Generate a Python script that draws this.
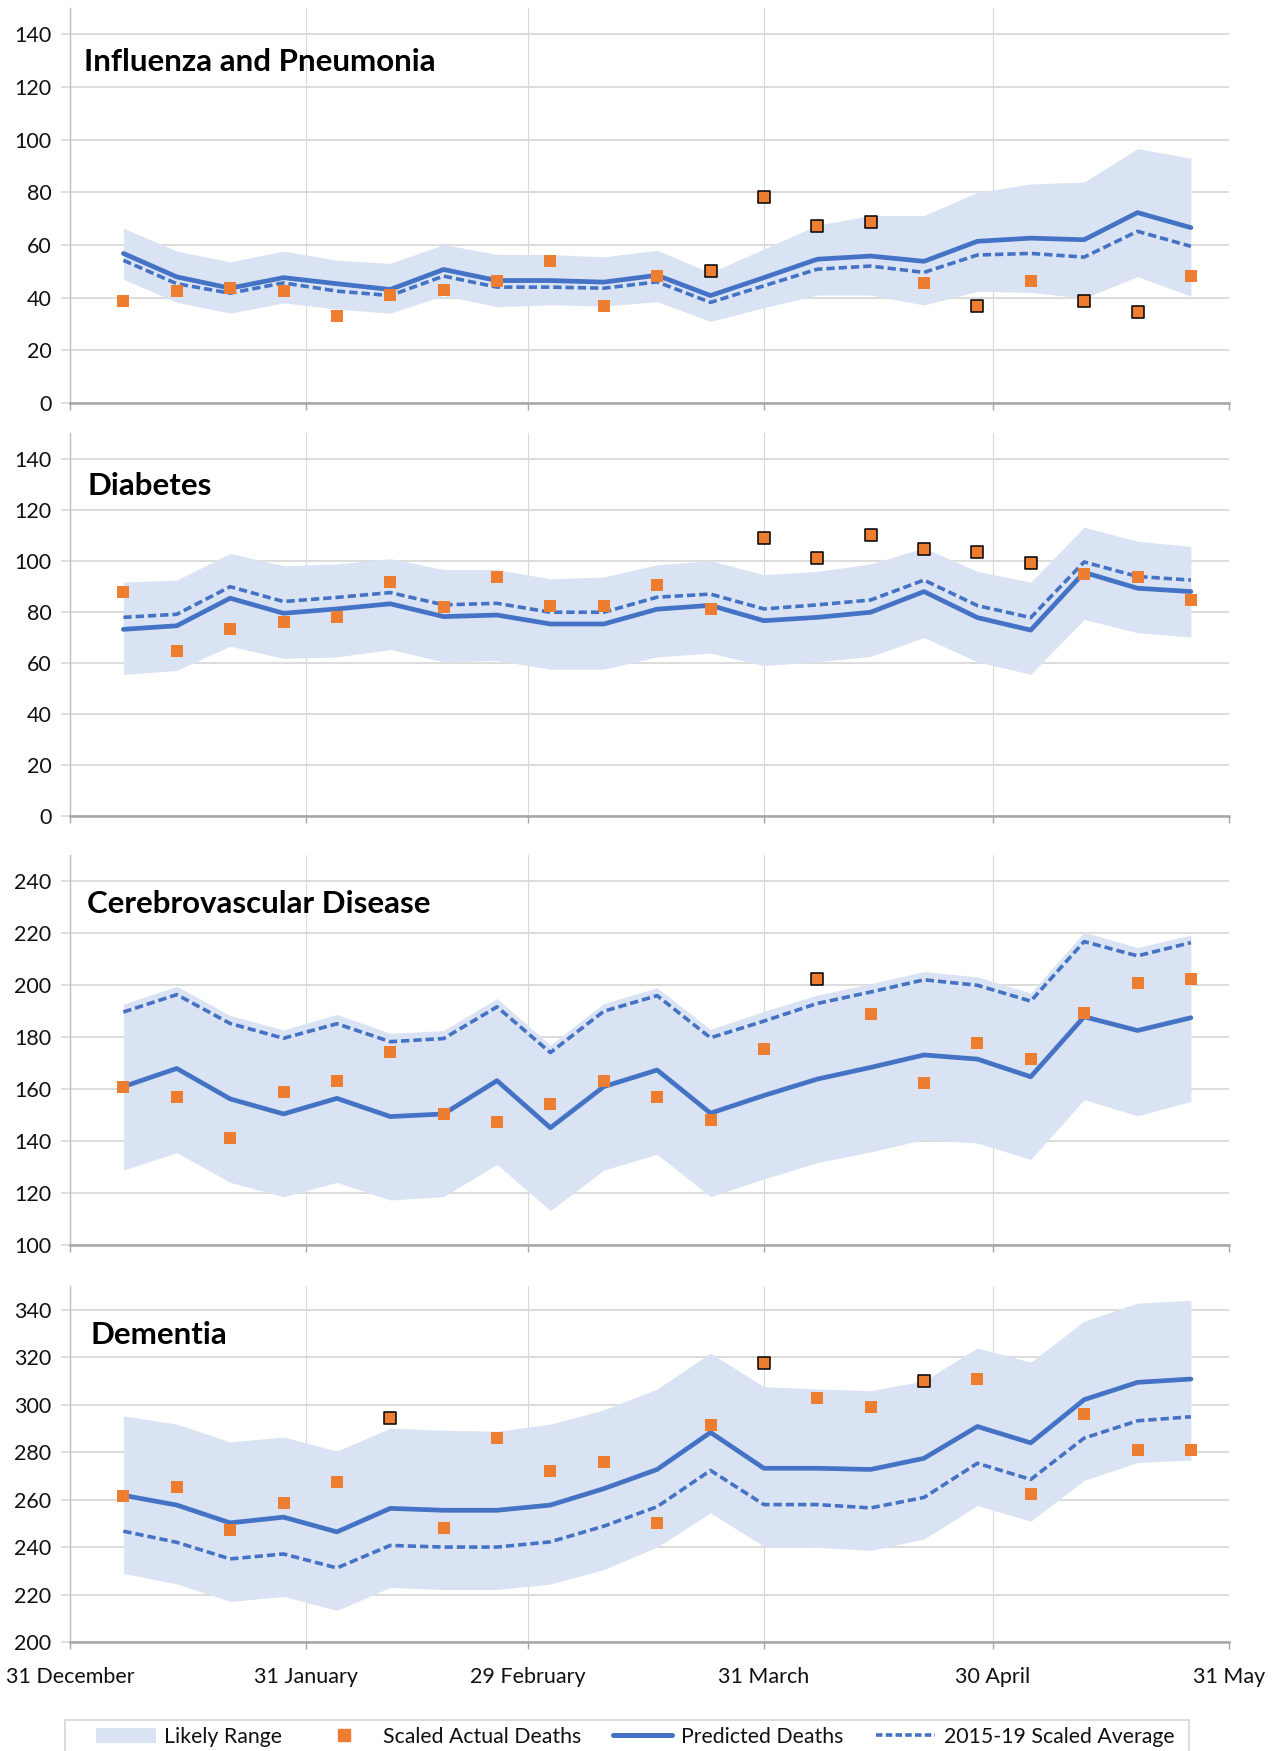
import numpy as np, pandas as pd, matplotlib.pyplot as plt, seaborn as sns
from matplotlib.patches import Patch, Rectangle
from matplotlib.lines import Line2D

# ==========================
# DATA
# ==========================
WEEKS = ["2020-01-07", "2020-01-14", "2020-01-21", "2020-01-28", "2020-02-04",
         "2020-02-11", "2020-02-18", "2020-02-25", "2020-03-03", "2020-03-10",
         "2020-03-17", "2020-03-24", "2020-03-31", "2020-04-07", "2020-04-14",
         "2020-04-21", "2020-04-28", "2020-05-05", "2020-05-12", "2020-05-19",
         "2020-05-26"]

MONTH_ENDS   = ["2019-12-31", "2020-01-31", "2020-02-29", "2020-03-31", "2020-04-30", "2020-05-31"]
MONTH_LABELS = ["31 December", "31 January", "29 February", "31 March", "30 April", "31 May"]

# Influenza and Pneumonia
flu_pred   = [56.8, 47.9, 43.6, 47.6, 45.3, 43.1, 50.7, 46.5, 46.5, 45.9, 48.5, 40.8, 47.6, 54.6, 55.8, 53.8, 61.4, 62.6, 62.0, 72.3, 66.6]
flu_avg    = [54.2, 45.3, 41.7, 45.6, 42.5, 40.8, 48.2, 44.0, 44.0, 43.6, 46.0, 38.2, 44.5, 50.8, 52.0, 49.6, 56.2, 56.8, 55.4, 65.2, 59.5]
flu_hi     = [66.4, 57.7, 53.6, 57.7, 54.2, 53.0, 60.2, 56.4, 56.4, 55.5, 58.0, 49.5, 58.5, 67.5, 71.2, 71.2, 80.0, 83.2, 83.9, 96.6, 93.0]
flu_lo     = [47.0, 38.3, 34.1, 38.0, 35.7, 34.1, 40.8, 36.6, 37.3, 36.8, 38.5, 31.0, 36.2, 41.0, 41.0, 37.2, 42.4, 42.0, 39.8, 48.0, 40.6]
flu_actual = [38.9, 42.4, 43.8, 42.4, 32.9, 41.1, 43.1, 46.5, 54.0, 37.0, 48.3, 50.3, 78.3, 67.4, 68.7, 45.5, 36.7, 46.2, 38.8, 34.6, 48.3]
flu_flag   = [0, 0, 0, 0, 0, 0, 0, 0, 0, 0, 0, 1, 1, 1, 1, 0, 1, 0, 1, 1, 0]

# Diabetes
dia_pred   = [73.1, 74.5, 85.3, 79.4, 81.1, 83.1, 78.1, 78.7, 75.2, 75.2, 81.0, 82.5, 76.5, 77.8, 79.8, 87.9, 77.7, 72.8, 95.4, 89.2, 87.9]
dia_avg    = [77.8, 79.0, 89.8, 84.0, 85.6, 87.5, 82.7, 83.3, 79.8, 79.8, 85.7, 86.9, 81.1, 82.7, 84.6, 92.4, 82.4, 77.7, 99.5, 93.8, 92.4]
dia_hi     = [91.6, 92.4, 102.8, 98.0, 98.7, 100.8, 96.5, 96.5, 92.9, 93.6, 98.4, 100.0, 94.5, 95.8, 98.7, 105.0, 95.8, 91.6, 113.1, 107.6, 105.6]
dia_lo     = [55.4, 57.0, 66.5, 61.7, 62.3, 65.2, 60.4, 60.9, 57.5, 57.5, 62.3, 63.8, 58.9, 60.4, 62.5, 69.9, 60.4, 55.5, 77.0, 71.8, 70.1]
dia_actual = [87.9, 64.8, 73.2, 76.0, 78.1, 91.5, 81.8, 93.6, 82.4, 82.4, 90.6, 81.0, 108.8, 101.0, 110.1, 104.6, 103.3, 99.1, 94.8, 93.6, 84.4]
dia_flag   = [0, 0, 0, 0, 0, 0, 0, 0, 0, 0, 0, 0, 1, 1, 1, 1, 1, 1, 0, 0, 0]

# Cerebrovascular Disease
cer_pred   = [160.9, 167.9, 156.2, 150.4, 156.4, 149.4, 150.4, 163.2, 145.1, 160.9, 167.3, 150.7, 157.5, 163.8, 168.3, 173.1, 171.5, 164.7, 187.8, 182.5, 187.4]
cer_avg    = [189.6, 196.3, 185.2, 179.5, 185.1, 178.2, 179.4, 191.6, 174.0, 189.9, 195.9, 179.7, 186.1, 192.9, 197.3, 202.0, 199.9, 193.8, 216.7, 211.2, 216.3]
cer_hi     = [192.7, 199.5, 188.3, 182.7, 188.7, 181.4, 182.5, 194.8, 176.9, 192.9, 198.9, 182.9, 189.9, 196.1, 200.5, 205.2, 203.1, 196.9, 220.3, 214.4, 219.2]
cer_lo     = [128.8, 135.5, 124.1, 118.6, 124.1, 117.3, 118.6, 131.0, 113.2, 128.8, 134.9, 118.6, 125.4, 131.7, 135.8, 140.6, 139.2, 132.9, 155.9, 149.7, 155.2]
cer_actual = [160.9, 156.8, 141.3, 159.0, 163.1, 174.4, 150.2, 147.4, 154.1, 163.1, 156.8, 148.2, 175.2, 202.3, 188.7, 162.3, 177.8, 171.7, 189.3, 200.8, 202.3]
cer_flag   = [0, 0, 0, 0, 0, 0, 0, 0, 0, 0, 0, 0, 0, 1, 0, 0, 0, 0, 0, 0, 0]

# Dementia
dem_pred   = [261.8, 257.7, 250.2, 252.6, 246.4, 256.3, 255.5, 255.5, 257.7, 264.6, 272.7, 288.3, 273.2, 273.2, 272.7, 277.4, 290.8, 283.9, 302.1, 309.4, 310.8]
dem_avg    = [246.7, 242.0, 235.0, 237.1, 231.2, 240.7, 240.0, 240.0, 242.2, 248.8, 257.0, 272.3, 257.9, 257.9, 256.5, 260.9, 275.3, 268.5, 285.9, 293.2, 294.9]
dem_hi     = [295.3, 291.8, 284.3, 286.4, 280.4, 290.1, 289.2, 288.8, 291.8, 297.8, 306.6, 321.7, 307.6, 306.6, 305.9, 310.0, 323.9, 317.9, 335.2, 342.8, 343.9]
dem_lo     = [228.9, 224.5, 217.1, 219.2, 213.3, 223.0, 222.1, 222.1, 224.4, 230.5, 240.0, 254.4, 240.3, 239.9, 238.6, 243.4, 257.5, 250.9, 268.1, 275.6, 276.7]
dem_actual = [261.5, 265.3, 247.2, 258.4, 267.5, 294.5, 248.1, 286.0, 272.0, 275.7, 250.2, 291.5, 317.6, 302.6, 299.0, 310.1, 311.0, 262.2, 295.9, 280.9, 280.9]
dem_flag   = [0, 0, 0, 0, 0, 1, 0, 0, 0, 0, 0, 0, 1, 0, 0, 1, 0, 0, 0, 0, 0]

# ==========================
# STYLE
# ==========================
RANGE_C  = "#DAE3F3"
BLUE     = "#4472C4"
ORANGE   = "#ED7D31"
GRID_C   = "#D9D9D9"
AXIS_C   = "#A6A6A6"
TEXT_C   = "#111111"

sns.set_theme(style="white")
plt.rcParams["font.family"] = ["Lato", "DejaVu Sans"]
plt.rcParams["text.color"] = TEXT_C

W, H = 1280, 1751
fig = plt.figure(figsize=(W / 100, H / 100), dpi=100)

def px_axes(top, bottom, left=70, right=1229):
    return fig.add_axes([left / W, 1 - bottom / H, (right - left) / W, (bottom - top) / H])

panels = [
    ("Influenza and Pneumonia", flu_pred, flu_avg, flu_lo, flu_hi, flu_actual, flu_flag, (0, 150), np.arange(0, 141, 20), (8, 403), 0.863, 0.012),
    ("Diabetes", dia_pred, dia_avg, dia_lo, dia_hi, dia_actual, dia_flag, (0, 150), np.arange(0, 141, 20), (433, 816), 0.861, 0.015),
    ("Cerebrovascular Disease", cer_pred, cer_avg, cer_lo, cer_hi, cer_actual, cer_flag, (100, 250), np.arange(100, 241, 20), (855, 1245), 0.874, 0.015),
    ("Dementia", dem_pred, dem_avg, dem_lo, dem_hi, dem_actual, dem_flag, (200, 350), np.arange(200, 341, 20), (1286, 1642), 0.862, 0.018),
]

weeks = pd.to_datetime(WEEKS)
month_ends = pd.to_datetime(MONTH_ENDS)
DASH = (0, (2.3, 1.1))

for i, (title, pred, avg, lo, hi, actual, flag, ylim, yticks, (top, bot), ty, tx) in enumerate(panels):
    ax = px_axes(top, bot)
    df = pd.DataFrame({"week": weeks, "pred": pred, "avg": avg, "lo": lo, "hi": hi,
                       "actual": actual, "flag": np.array(flag, dtype=bool)})

    ax.fill_between(df["week"], df["lo"], df["hi"], color=RANGE_C, lw=0, zorder=1)
    sns.lineplot(data=df, x="week", y="pred", ax=ax, color=BLUE, lw=3.4, zorder=3)
    sns.lineplot(data=df, x="week", y="avg", ax=ax, color=BLUE, lw=2.6, linestyle=DASH, zorder=3)
    sns.scatterplot(data=df[~df["flag"]], x="week", y="actual", ax=ax, marker="s", s=80,
                    color=ORANGE, linewidth=0, zorder=5)
    sns.scatterplot(data=df[df["flag"]], x="week", y="actual", ax=ax, marker="s", s=80,
                    color=ORANGE, edgecolor="black", linewidth=1.1, zorder=5)

    ax.set_xlim(month_ends[0], month_ends[-1])
    ax.set_ylim(*ylim)
    ax.set_yticks(yticks)
    ax.set_xticks(month_ends)
    ax.set_xticklabels(MONTH_LABELS if i == len(panels) - 1 else [""] * len(MONTH_LABELS))
    ax.set_xlabel(""); ax.set_ylabel("")

    ax.set_axisbelow(True)
    ax.grid(axis="y", color=GRID_C, lw=1.3)
    ax.grid(axis="x", color=GRID_C, lw=0.8)
    for s in ["top", "right"]:
        ax.spines[s].set_visible(False)
    ax.spines["left"].set_color("#BFBFBF"); ax.spines["left"].set_linewidth(1.0)
    ax.spines["bottom"].set_color(AXIS_C); ax.spines["bottom"].set_linewidth(1.8)
    ax.tick_params(axis="y", direction="out", length=6.5, width=1.2, color=GRID_C,
                   labelsize=15.5, labelcolor=TEXT_C, pad=7, left=True)
    ax.tick_params(axis="x", direction="out", length=5, width=1.0, color=AXIS_C,
                   labelsize=15.5, labelcolor=TEXT_C, pad=13, bottom=True)

    ax.text(tx, ty, title, transform=ax.transAxes, fontsize=22.5, fontweight="bold",
            ha="left", va="center", color="black")

# ==========================
# LEGEND
# ==========================
handles = [
    Patch(facecolor=RANGE_C, edgecolor="none"),
    Line2D([], [], marker="s", color=ORANGE, ls="none", markersize=8),
    Line2D([], [], color=BLUE, lw=3.6),
    Line2D([], [], color=BLUE, lw=2.6, linestyle=(0, (1.8, 0.9))),
]
labels = ["Likely Range", "Scaled Actual Deaths", "Predicted Deaths", "2015-19 Scaled Average"]
leg = fig.legend(handles, labels, loc="upper left", ncol=4,
                 bbox_to_anchor=(96 / W, 1 - 1727 / H), borderaxespad=0, borderpad=0,
                 fontsize=15.3, handlelength=2.8, handleheight=0.75, handletextpad=0.42,
                 columnspacing=1.5, frameon=False)
fig.patches.append(Rectangle((65 / W, -0.02), (1189 - 65) / W, 0.02 + 1 - 1720 / H,
                             transform=fig.transFigure, fill=False, edgecolor=GRID_C, lw=1.3))

fig.savefig("out.png", dpi=100)
